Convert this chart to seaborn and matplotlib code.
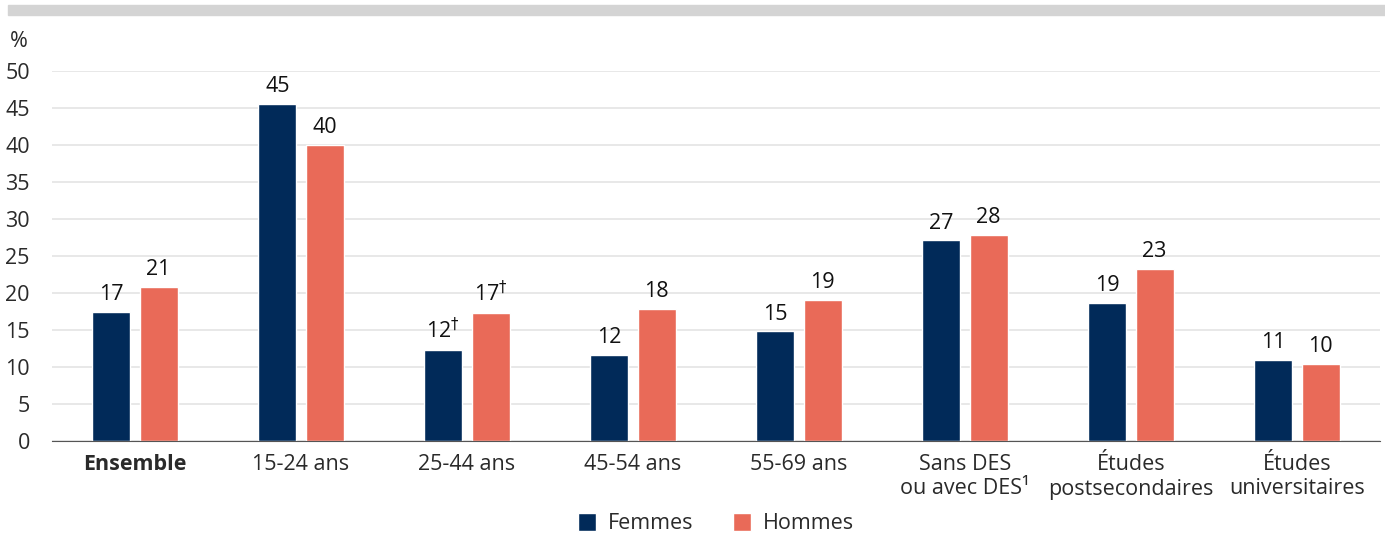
import matplotlib
matplotlib.use('Agg')
import matplotlib.pyplot as plt
import seaborn as sns
import pandas as pd

categories = ['Ensemble', '15-24 ans', '25-44 ans', '45-54 ans', '55-69 ans',
              'Sans DES\nou avec DES\u00b9', '\u00c9tudes\npostsecondaires', '\u00c9tudes\nuniversitaires']
femmes = [17.4, 45.5, 12.3, 11.6, 14.8, 27.1, 18.7, 10.9]
hommes = [20.8, 40.0, 17.3, 17.8, 19.0, 27.8, 23.3, 10.4]
femmes_lbl = ['17', '45', '12$^{\\dagger}$', '12', '15', '27', '19', '11']
hommes_lbl = ['21', '40', '17$^{\\dagger}$', '18', '19', '28', '23', '10']
series = ['Femmes', 'Hommes']
couleurs = ['#012a59', '#e96a58']
yticks = list(range(0, 55, 5))

sns.set_style('white')
plt.rcParams['font.family'] = ['Open Sans', 'DejaVu Sans']
fs = 15.5
gris = '#2a2a2a'

df = pd.DataFrame({
    'cat': categories * 2,
    'val': femmes + hommes,
    'sexe': [series[0]] * len(categories) + [series[1]] * len(categories),
})

fig = plt.figure(figsize=(13.85, 5.34), dpi=100)
# bandeau gris en haut
fig.patches.append(plt.Rectangle((8 / 1385, 1 - 15 / 534), 1, 10 / 534,
                                 transform=fig.transFigure, color='#d4d4d4', zorder=0))
ax = fig.add_axes([52 / 1385, 1 - 441 / 534, 1328 / 1385, 370 / 534])

sns.barplot(data=df, x='cat', y='val', hue='sexe', palette=couleurs,
            width=0.57, gap=0.2, ax=ax, legend=True, saturation=1)

ax.set_ylim(0, 50)
ax.set_xlim(-0.5, len(categories) - 0.5)
ax.set_yticks(yticks)
ax.set_yticklabels([str(t) for t in yticks], fontsize=fs, color=gris)
ax.grid(axis='y', color='#e4e4e4', linewidth=1.2)
ax.set_axisbelow(True)
for s in ['top', 'right', 'left']:
    ax.spines[s].set_visible(False)
ax.spines['bottom'].set_color('#555555')
ax.tick_params(axis='y', length=0, pad=16)

# graduations entre les categories
ax.set_xticks([i - 0.5 for i in range(len(categories) + 1)], minor=True)
ax.tick_params(axis='x', which='minor', length=9, color='#555555', width=1)
ax.tick_params(axis='x', which='major', length=0, pad=9)
ax.set_xticks(range(len(categories)))
ax.set_xticklabels(categories, fontsize=fs, color=gris, linespacing=1.25)
ax.get_xticklabels()[0].set_fontweight('bold')
ax.set_xlabel('')
ax.set_ylabel('')
ax.text(-0.032, 1.08, '%', transform=ax.transAxes, fontsize=fs, ha='left', va='center', color=gris)

for cont, lbls in zip(ax.containers, [femmes_lbl, hommes_lbl]):
    ax.bar_label(cont, labels=lbls, padding=5, fontsize=fs, color='#111111', clip_on=False)

leg = ax.legend(loc='center', bbox_to_anchor=(0.5, -0.224), ncol=2, frameon=False,
                fontsize=fs, handlelength=0.85, handleheight=0.85, columnspacing=1.85, handletextpad=0.55)
for t in leg.get_texts():
    t.set_color(gris)

fig.savefig('out.png', dpi=100)
